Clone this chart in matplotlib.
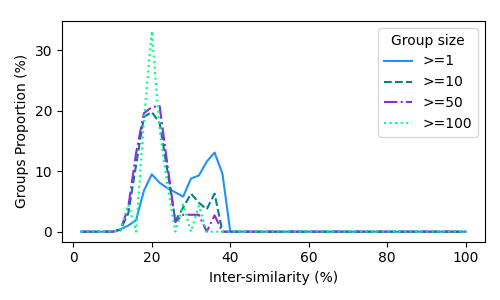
import numpy as np
import matplotlib
matplotlib.use("Agg")
import matplotlib.pyplot as plt

# inter-similarity bins (%)
sim = list(range(2, 101, 2))

# proportion of groups (%) per bin, only the first 20 bins are non-zero
ge1_head = [0, 0, 0, 0, 0, 0.4, 1.0, 1.9, 6.8, 9.5,
            8.1, 7.2, 6.5, 5.8, 8.8, 9.3, 11.6, 13.1, 9.6, 0]
ge10_head = [0, 0, 0, 0, 0, 0.3, 3.0, 11.0, 19.0, 19.8,
             18.0, 10.0, 1.8, 4.0, 6.3, 4.8, 3.7, 6.3, 0, 0]
ge50_head = [0, 0, 0, 0, 0, 0.2, 4.0, 13.0, 19.6, 20.6,
             20.8, 11.0, 1.6, 2.8, 2.8, 2.8, 0, 2.7, 0, 0]
ge100_head = [0, 0, 0, 0, 0, 0.3, 4.5, 0, 18.5, 33.2,
              16.8, 7.5, 0, 4.5, 0, 4.3, 0, 0, 0, 0]

tail = [0] * (len(sim) - 20)
ge1 = ge1_head + tail
ge10 = ge10_head + tail
ge50 = ge50_head + tail
ge100 = ge100_head + tail

fig, ax = plt.subplots(figsize=(5, 3), dpi=100)
ax.plot(sim, ge1, color="dodgerblue", linestyle="-", label=">=1")
ax.plot(sim, ge10, color="teal", linestyle="--", label=">=10")
ax.plot(sim, ge50, color="blueviolet", linestyle="-.", label=">=50")
ax.plot(sim, ge100, color="springgreen", linestyle=":", label=">=100")

ax.set_yticks([0, 10, 20, 30])
ax.set_xlabel("Inter-similarity (%)")
ax.set_ylabel("Groups Proportion (%)")
ax.legend(title="Group size", loc="upper right")

fig.tight_layout()
fig.subplots_adjust(top=0.93)
fig.savefig("out.png")
